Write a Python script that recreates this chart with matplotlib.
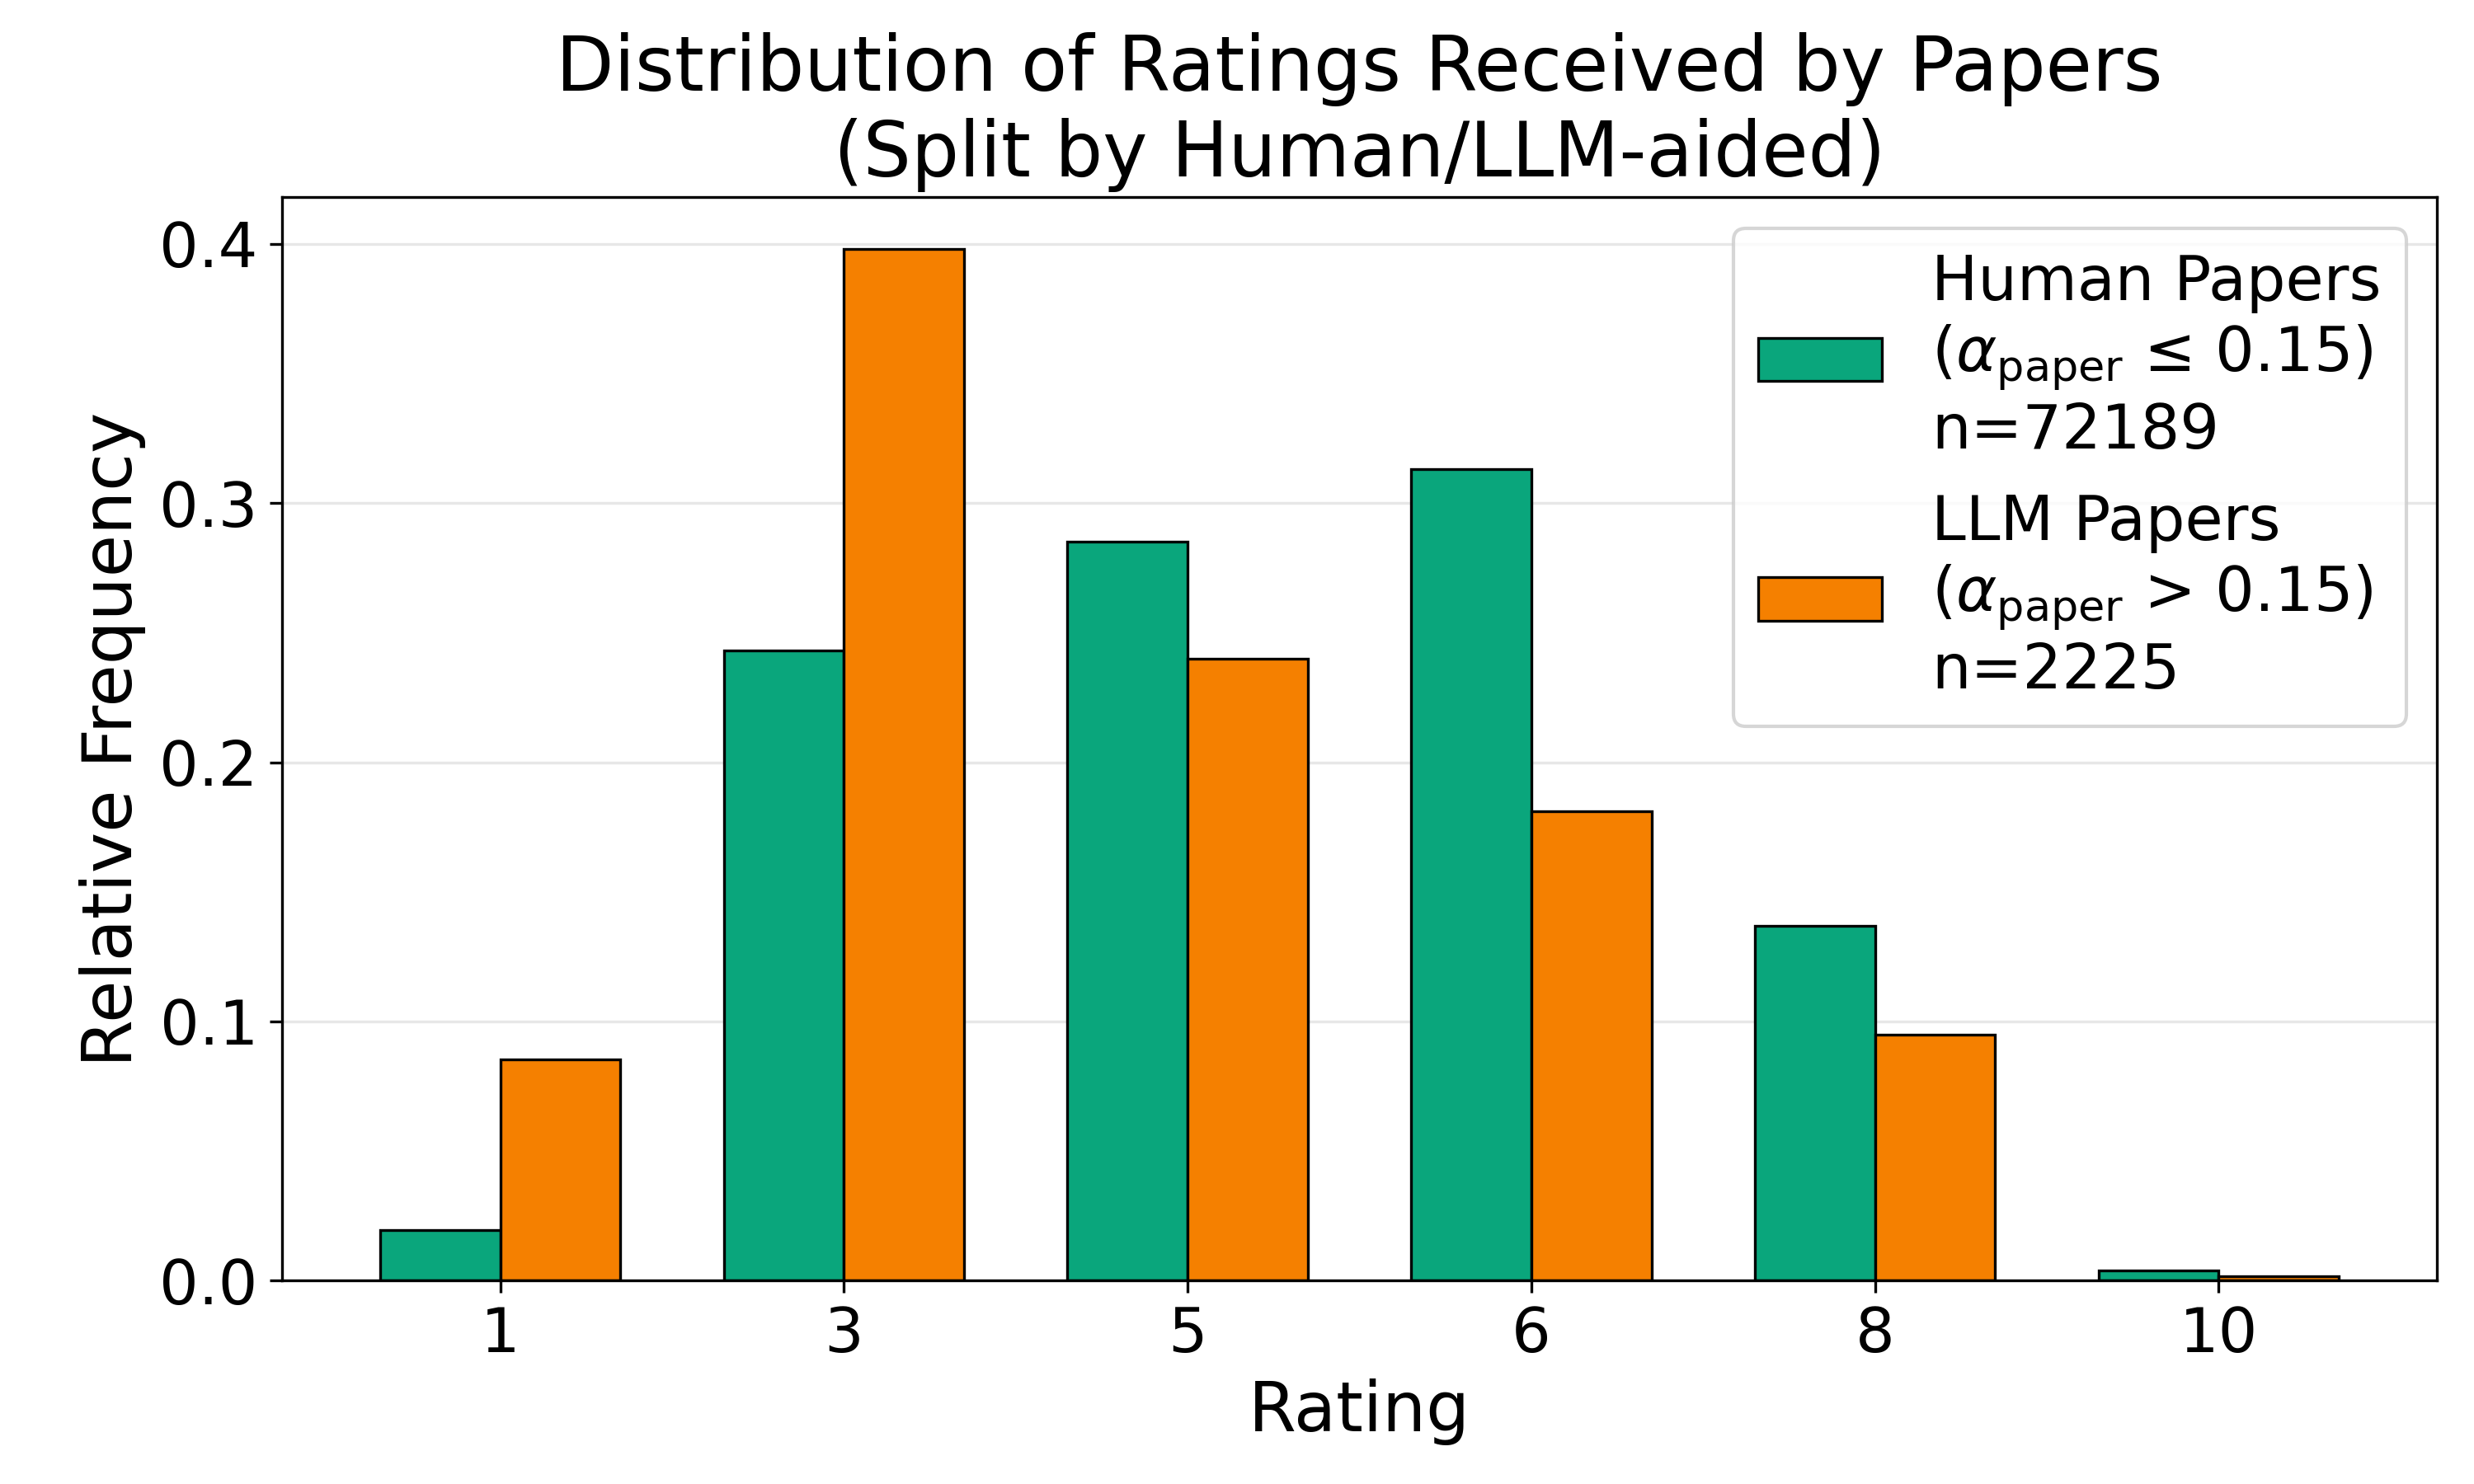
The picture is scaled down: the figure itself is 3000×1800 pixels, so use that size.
import numpy as np
import matplotlib
matplotlib.use('Agg')
import matplotlib.pyplot as plt

# Datos
ratings = ['1', '3', '5', '6', '8', '10']
human_freq = [0.0195, 0.243, 0.285, 0.313, 0.137, 0.0038]
llm_freq = [0.0854, 0.398, 0.240, 0.181, 0.095, 0.0016]
n_human = 72189
n_llm = 2225

color_human = '#0aa67c'
color_llm = '#f58000'

fig, ax = plt.subplots(figsize=(10, 6), dpi=300)
x = np.arange(len(ratings))
w = 0.35

ax.bar(x - w / 2, human_freq, w, color=color_human, edgecolor='black', linewidth=0.8,
       label='Human Papers\n' + r'($\alpha_{\mathrm{paper}}$ ≤ 0.15)' + f'\nn={n_human}')
ax.bar(x + w / 2, llm_freq, w, color=color_llm, edgecolor='black', linewidth=0.8,
       label='LLM Papers\n' + r'($\alpha_{\mathrm{paper}}$ > 0.15)' + f'\nn={n_llm}')

ax.set_xticks(x)
ax.set_xticklabels(ratings)
ax.tick_params(axis='both', labelsize=18)
ax.set_xlabel('Rating', fontsize=20)
ax.set_ylabel('Relative Frequency', fontsize=20)
ax.set_title('Distribution of Ratings Received by Papers\n(Split by Human/LLM-aided)', fontsize=22)
ax.yaxis.grid(True, alpha=0.3)
ax.set_axisbelow(True)
ax.legend(fontsize=18, loc='upper right')

plt.subplots_adjust(left=0.114, right=0.985, bottom=0.137, top=0.867)
plt.savefig('out.png')
plt.close()
